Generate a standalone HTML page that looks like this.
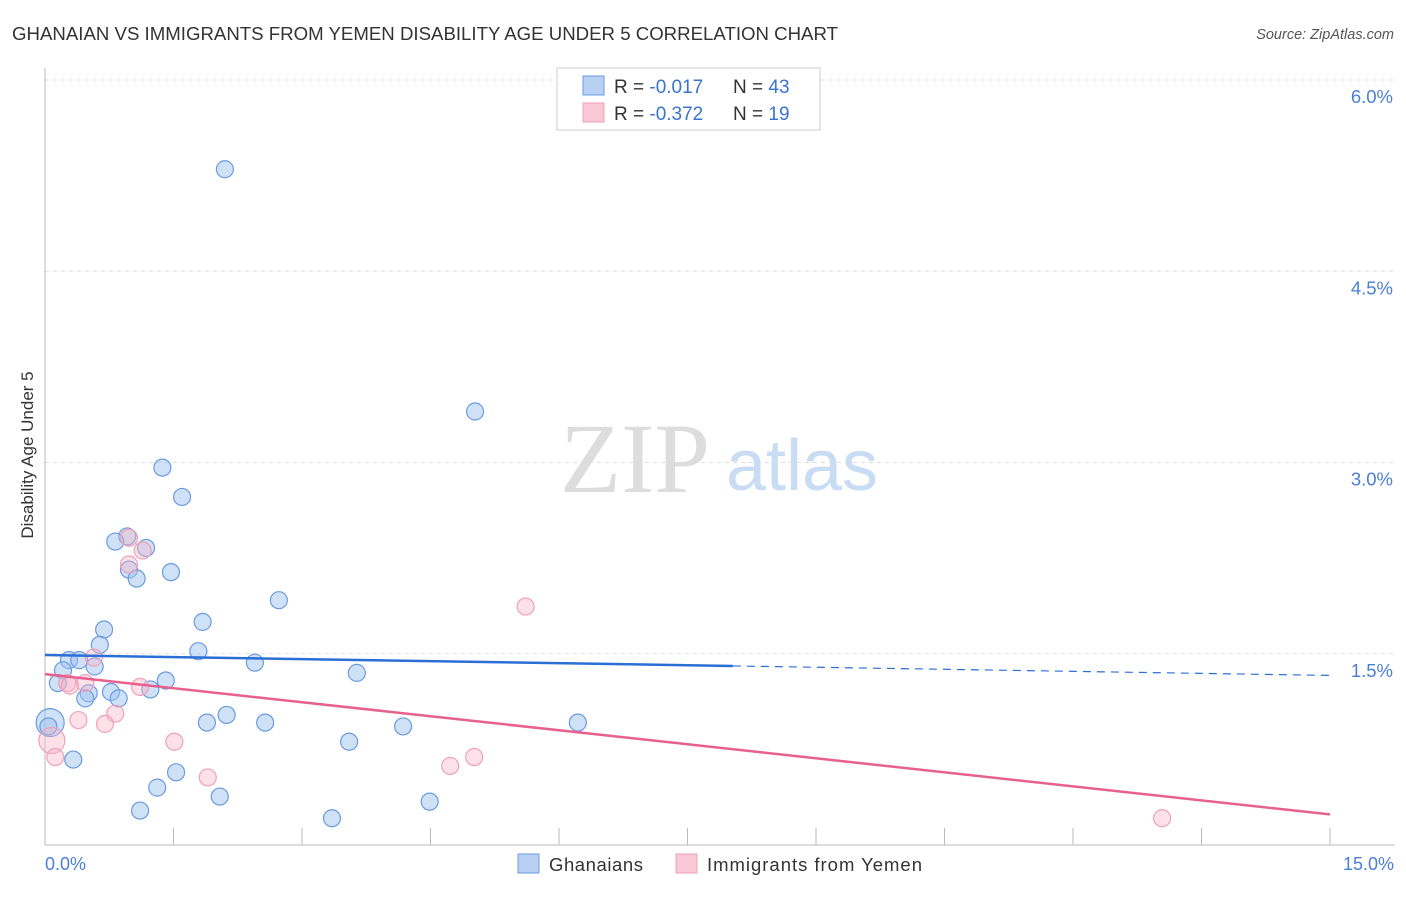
<!DOCTYPE html>
<html><head><meta charset="utf-8"><style>
body{margin:0;background:#fff;font-family:"Liberation Sans",sans-serif;}
</style></head><body>
<svg id="chart" width="1406" height="892" viewBox="0 0 1406 892" xmlns="http://www.w3.org/2000/svg" font-family="Liberation Sans, sans-serif">
<text x="12" y="40" font-size="18" fill="#333" textLength="826" lengthAdjust="spacingAndGlyphs">GHANAIAN VS IMMIGRANTS FROM YEMEN DISABILITY AGE UNDER 5 CORRELATION CHART</text>
<text x="1394" y="39" font-size="14.5" fill="#555" font-style="italic" text-anchor="end">Source: ZipAtlas.com</text>
<g id="grid"></g>
<g><text x="635" y="492" font-size="100" fill="#ddd" style="font-family:'Liberation Serif',serif" text-anchor="middle">ZIP</text><text x="802" y="490" font-size="72" fill="#c8dcf3" text-anchor="middle">atlas</text></g>
<line x1="45" y1="68" x2="45" y2="845" stroke="#bbb"/>
<line x1="45" y1="845" x2="1395" y2="845" stroke="#bbb"/>
<g id="xticks"></g>
<text x="33" y="455" font-size="17" fill="#333" text-anchor="middle" transform="rotate(-90 33 455)">Disability Age Under 5</text>
<text x="45" y="870" font-size="18" fill="#4a7fd6">0.0%</text>
<text x="1394" y="870" font-size="18" fill="#4a7fd6" text-anchor="end">15.0%</text>
<g id="pts"></g>
<g id="trends"></g>
<g>
<rect x="557" y="68" width="263" height="62" fill="#fff" stroke="#ccc"/>
<rect x="583" y="76" width="21" height="19" fill="#b8d1f3" stroke="#6a9be0"/>
<rect x="583" y="103" width="21" height="19" fill="#f9c8d6" stroke="#f0a0b8"/>
<text x="614" y="93" font-size="19" fill="#333">R = <tspan fill="#3a72d0">-0.017</tspan></text>
<text x="733" y="93" font-size="19" fill="#333">N = <tspan fill="#3a72d0">43</tspan></text>
<text x="614" y="120" font-size="19" fill="#333">R = <tspan fill="#3a72d0">-0.372</tspan></text>
<text x="733" y="120" font-size="19" fill="#333">N =  <tspan fill="#3a72d0">19</tspan></text>
</g>
<g>
<rect x="518" y="854" width="21" height="19" fill="#b8d1f3" stroke="#6a9be0"/>
<text x="549" y="871" font-size="18.5" fill="#333" textLength="94">Ghanaians</text>
<rect x="676" y="854" width="21" height="19" fill="#f9c8d6" stroke="#f0a0b8"/>
<text x="707" y="871" font-size="18.5" fill="#333" textLength="215">Immigrants from Yemen</text>
</g>
</svg>
<script>
const yTicks=[1.5,3.0,4.5,6.0];
const yTickLabels=["1.5%","3.0%","4.5%","6.0%"];
const blueX=[2.10,5.02,1.37,1.60,0.96,0.82,1.18,0.98,1.07,1.47,2.73,1.84,0.69,0.64,1.79,0.28,0.40,0.58,0.21,2.45,3.64,0.15,1.41,0.51,0.77,1.23,0.47,0.86,1.89,2.12,2.57,6.22,4.18,3.55,0.06,0.33,1.53,1.31,2.04,1.11,4.49,3.35,0.04];
const blueY=[5.30,3.40,2.96,2.73,2.42,2.38,2.33,2.16,2.09,2.14,1.92,1.75,1.69,1.57,1.52,1.45,1.45,1.40,1.37,1.43,1.35,1.27,1.29,1.19,1.20,1.22,1.15,1.15,0.96,1.02,0.96,0.96,0.93,0.81,0.96,0.67,0.57,0.45,0.38,0.27,0.34,0.21,0.93];
const pinkX=[0.98,1.14,0.98,0.57,0.26,0.47,1.11,0.82,0.39,0.70,1.51,0.08,0.12,1.90,4.73,5.01,5.61,13.04,0.29];
const pinkY=[2.41,2.31,2.20,1.47,1.27,1.27,1.24,1.03,0.98,0.95,0.81,0.82,0.69,0.53,0.62,0.69,1.87,0.21,1.25];
const blueTrend=[1.49,1.33], blueSolidEnd=8.03;
const pinkTrend=[1.34,0.24];
const NS="http://www.w3.org/2000/svg";
const sx=v=>45+v*(1285/15), sy=v=>845-v*127.5;
function mk(t,a,p){const e=document.createElementNS(NS,t);for(const k in a)e.setAttribute(k,a[k]);p.appendChild(e);return e;}
const grid=document.getElementById('grid');
yTicks.forEach((t,i)=>{
 const l=mk('line',{x1:45,x2:1395,y1:sy(t),y2:sy(t),stroke:'#ddd','stroke-dasharray':'4,4'},grid);
 
 
 const tx=mk('text',{x:1393,y:sy(t)+23,'font-size':18.5,fill:'#4a7fd6','text-anchor':'end'},grid);
 tx.textContent=yTickLabels[i];
 
 
});
const xt=document.getElementById('xticks');
for(let i=1;i<=10;i++){const l=mk('line',{x1:sx(i*1.5),x2:sx(i*1.5),y1:828,y2:845,stroke:'#bbb'},xt);
 
 }
const pts=document.getElementById('pts');
blueX.forEach((x,i)=>{const r=(i==34)?14:8.5;
 const c=mk('circle',{cx:sx(x),cy:sy(blueY[i]),r:r,fill:'rgba(160,196,240,0.5)',stroke:'#6a9be0','stroke-width':1.2},pts);
 
 });
pinkX.forEach((x,i)=>{const r=(i==11)?13:8.5;
 const c=mk('circle',{cx:sx(x),cy:sy(pinkY[i]),r:r,fill:'rgba(248,180,200,0.4)',stroke:'#f0a0b8','stroke-width':1.2},pts);
 
 });
const tr=document.getElementById('trends');
const bAt=x=>blueTrend[0]+(blueTrend[1]-blueTrend[0])*x/15;
let l1=mk('line',{x1:sx(0),y1:sy(bAt(0)),x2:sx(blueSolidEnd),y2:sy(bAt(blueSolidEnd)),stroke:'#2a6fd6','stroke-width':2.5},tr);


let l2=mk('line',{x1:sx(blueSolidEnd),y1:sy(bAt(blueSolidEnd)),x2:sx(15),y2:sy(bAt(15)),stroke:'#2a6fd6','stroke-width':1.2,'stroke-dasharray':'8,6'},tr);


let l3=mk('line',{x1:sx(0),y1:sy(pinkTrend[0]),x2:sx(15),y2:sy(pinkTrend[1]),stroke:'#e8608e','stroke-width':2.5},tr);


</script>
</body></html>
